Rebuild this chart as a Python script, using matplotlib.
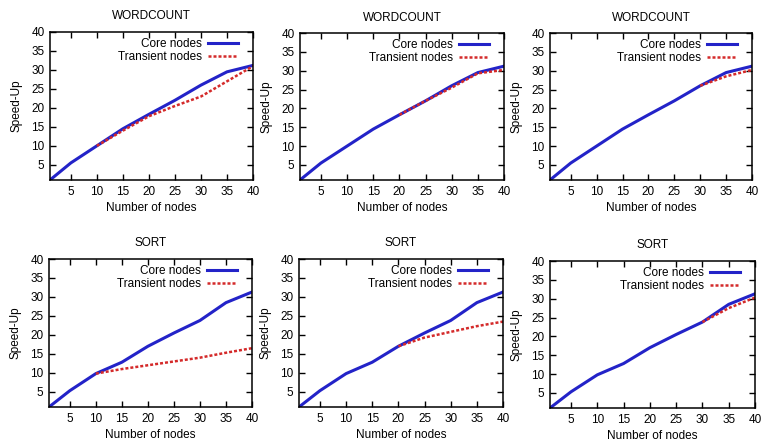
import numpy as np
import matplotlib.pyplot as plt

plt.rcParams['font.family'] = ['Liberation Sans Narrow', 'Liberation Sans', 'DejaVu Sans']

nodes = [1, 5, 10, 15, 20, 25, 30, 35, 40]

# core nodes speed-up
wc_core = [1, 5.5, 10, 14.5, 18.3, 22, 26, 29.5, 31.2]
sort_core = [1, 5.3, 9.8, 12.8, 17, 20.5, 23.8, 28.5, 31.3]

# transient nodes: start node and values from there on
wc_start = [10, 20, 30]
wc_trans = [
    [10, 14, 17.8, 20.5, 23, 27, 31],
    [18.3, 22, 25.5, 29.3, 30.2],
    [26, 28.5, 30.2],
]
sort_start = [10, 20, 30]
sort_trans = [
    [9.8, 11, 12, 13, 14, 15.3, 16.5],
    [17, 19.3, 20.8, 22.3, 23.5],
    [23.8, 27.5, 30.3],
]

W, H = 767, 441
fig = plt.figure(figsize=(W / 100, H / 100), dpi=100)

# axes boxes in pixels: left, top, right, bottom
boxes = [
    [(50, 32, 253, 180), (300, 33, 504, 180), (550, 33, 752, 180)],
    [(49, 259, 252, 407), (299, 259, 503, 407), (550, 261, 755, 408)],
]

blue = '#2323c8'
red = '#d42a2a'
fs = 8.5

rows = [("WORDCOUNT", wc_core, wc_start, wc_trans),
        ("SORT", sort_core, sort_start, sort_trans)]

for r, (title, core, starts, trans) in enumerate(rows):
    for c in range(3):
        l, t, rr, b = boxes[r][c]
        ax = fig.add_axes([l / W, 1 - b / H, (rr - l) / W, (b - t) / H])
        ax.plot(nodes, core, color=blue, lw=2.2, label='Core nodes')
        tx = [n for n in nodes if n >= starts[c]]
        ax.plot(tx, trans[c], color=red, lw=1.8, ls=(0, (1.2, 0.8)),
                label='Transient nodes')
        ax.set_xlim(1, 40)
        ax.set_ylim(1, 40)
        ax.set_xticks(range(5, 41, 5))
        ax.set_yticks(range(5, 41, 5))
        ax.tick_params(direction='in', top=True, right=True, labelsize=fs,
                       length=4, width=1, pad=4)
        for s in ax.spines.values():
            s.set_linewidth(1.1)
        ax.set_title(title, fontsize=fs, pad=9)
        ax.set_xlabel('Number of nodes', fontsize=fs, labelpad=3)
        ax.set_ylabel('Speed-Up', fontsize=fs, labelpad=6)
        ax.legend(loc='upper right', frameon=False, markerfirst=False,
                  fontsize=fs, handlelength=2.6, borderaxespad=0.15,
                  labelspacing=0.05, handletextpad=0.5,
                  bbox_to_anchor=(0.96, 1.0))

fig.savefig('out.png', dpi=100)
